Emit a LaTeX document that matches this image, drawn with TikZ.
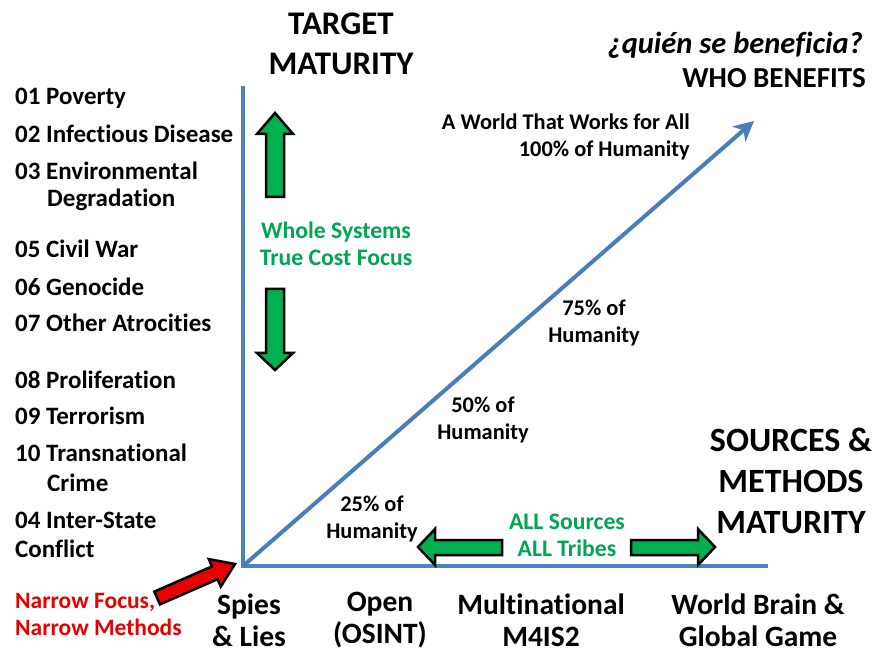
\documentclass[tikz,border=0pt]{standalone}
\usepackage{fontspec}
\setmainfont[Ligatures=NoCommon]{Carlito}
\usetikzlibrary{arrows.meta}
\definecolor{axisblue}{RGB}{79,129,189}
\definecolor{diagblue}{RGB}{74,126,187}
\definecolor{bgreen}{RGB}{0,176,80}
\definecolor{tgreen}{RGB}{0,166,80}
\definecolor{bred}{RGB}{230,0,0}
\tikzset{
  lst/.style={anchor=west,inner sep=0pt,font=\bfseries\fontsize{25}{27}\selectfont},
  ttl/.style={inner sep=0pt,align=center,font=\bfseries\fontsize{33}{40}\selectfont},
  bot/.style={inner sep=0pt,align=center,font=\bfseries\fontsize{29.5}{32}\selectfont},
  pct/.style={inner sep=0pt,align=center,font=\bfseries\fontsize{22.4}{27}\selectfont},
  gtxt/.style={inner sep=0pt,align=center,text=tgreen,font=\bfseries\fontsize{23.7}{27}\selectfont},
  blockg/.style={fill=bgreen,draw=black,line width=2.5pt,line join=miter},
  blockr/.style={fill=bred,draw=black,line width=2.5pt,line join=miter},
  axisline/.style={draw=axisblue,line width=4pt},
}
\begin{document}
\begin{tikzpicture}[x=1pt,y=-1pt]
\useasboundingbox (0,0) rectangle (876,652);
\fill[white] (0,0) rectangle (876,652);
% axes
\coordinate (O) at (243,566);
\coordinate (Ytop) at (243,88);
\coordinate (Xend) at (766,566);
\coordinate (Dend) at (754,121);
\draw[axisline,line cap=rect] (Ytop) -- (O) -- (Xend);
\draw[draw=diagblue,line width=4pt,-{Stealth[length=20pt,width=20pt,inset=6pt]}] (O) -- (Dend);
% titles
\node[ttl] (tgt) at (341,44) {TARGET\\MATURITY};
\node[inner sep=0pt,anchor=east,font=\bfseries\itshape\fontsize{30.5}{30}\selectfont] (quien) at (863,45) {¿quién se beneficia?};
\node[inner sep=0pt,anchor=east,font=\bfseries\fontsize{29}{30}\selectfont] (who) at (866,78) {WHO BENEFITS};
\node[ttl,align=center,font=\bfseries\fontsize{34}{41}\selectfont] (sm) at (791,481) {SOURCES \&\\METHODS\\MATURITY};
% diagonal labels
\node[pct,align=right,anchor=north east] (world) at (690,114) {A World That Works for All\\100\% of Humanity};
\node[pct] (p75) at (594,323) {75\% of\\Humanity};
\node[pct] (p50) at (483,420) {50\% of\\Humanity};
\node[pct] (p25) at (372,519) {25\% of\\Humanity};
% bottom labels
\node[bot] (spies) at (249,620) {Spies\\\& Lies};
\node[bot] (open) at (380,620) {Open\\(OSINT)};
\node[bot] (multi) at (541,620) {Multinational\\M4IS2};
\node[bot] (wb) at (758,620) {World Brain \&\\Global Game};
% left list
\node[lst] (l01) at (15,98) {01 Poverty};
\node[lst] (l02) at (15,134) {02 Infectious Disease};
\node[lst] (l03) at (15,171) {03 Environmental};
\node[lst] (l03b) at (47,200) {Degradation};
\node[lst] (l05) at (15,249) {05 Civil War};
\node[lst] (l06) at (15,287) {06 Genocide};
\node[lst] (l07) at (15,323) {07 Other Atrocities};
\node[lst] (l08) at (15,380) {08 Proliferation};
\node[lst] (l09) at (15,416) {09 Terrorism};
\node[lst] (l10) at (15,453) {10 Transnational};
\node[lst] (l10b) at (47,483) {Crime};
\node[lst] (l04) at (15,520) {04 Inter-State};
\node[lst] (l04b) at (15,549) {Conflict};
\node[lst,text=bred,align=left,font=\bfseries\fontsize{23.5}{27}\selectfont] (narrow) at (15,614) {Narrow Focus,\\Narrow Methods};
% green texts
\node[gtxt] (whole) at (336,244) {Whole Systems\\True Cost Focus};
\node[gtxt] (all) at (567,535) {ALL Sources\\ALL Tribes};
% green block arrows
\path[blockg] (275,113) -- (257,134) -- (266,134) -- (266,197) -- (284,197) -- (284,134) -- (293,134) -- cycle;
\path[blockg] (275,370) -- (257,353) -- (266,353) -- (266,289) -- (284,289) -- (284,353) -- (293,353) -- cycle;
\path[blockg] (418,547) -- (435,529) -- (435,540) -- (502,540) -- (502,555) -- (435,555) -- (435,565) -- cycle;
\path[blockg] (715,547) -- (698,529) -- (698,540) -- (631,540) -- (631,555) -- (698,555) -- (698,565) -- cycle;
% red arrow
\path[blockr] (235,564) -- (208.8,559.1) -- (212.0,566.4) -- (154.3,591.6) -- (159.9,604.4) -- (217.6,579.2) -- (220.8,586.6) -- cycle;
\end{tikzpicture}
\end{document}
